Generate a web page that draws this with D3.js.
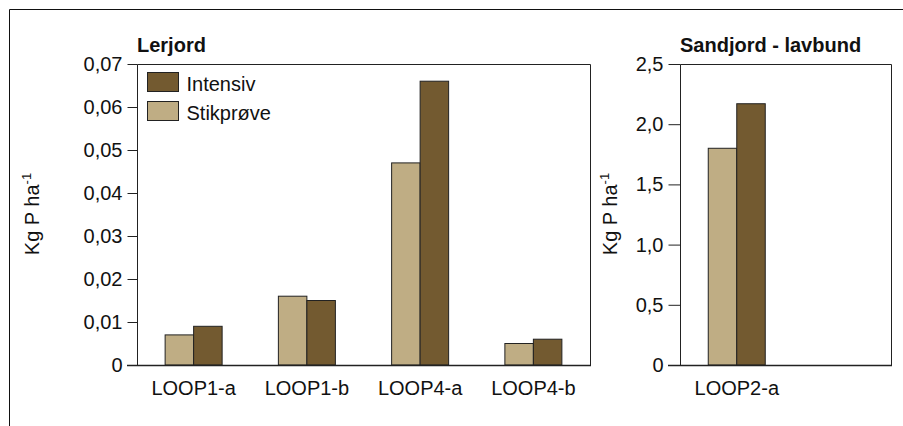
<!DOCTYPE html>
<html>
<head>
<meta charset="utf-8">
<script src="https://cdn.jsdelivr.net/npm/d3@7"></script>
<style>
  body { margin: 0; background: #fff; }
  text { font-family: "Liberation Sans", Arial, sans-serif; fill: #111; }
</style>
</head>
<body>
<svg width="903" height="426"></svg>
<script>
var svg = d3.select("svg"),
    width = +svg.attr("width"),
    height = +svg.attr("height");

// data
var series = ["Stikprøve", "Intensiv"];
var lerCats = ["LOOP1-a", "LOOP1-b", "LOOP4-a", "LOOP4-b"];
var lerStik = [0.007, 0.016, 0.047, 0.005];
var lerInt = [0.009, 0.015, 0.066, 0.006];
var sandCats = ["LOOP2-a", ""];
var sandStik = [1.80, null];
var sandInt = [2.17, null];
var lerTicks = [0, 0.01, 0.02, 0.03, 0.04, 0.05, 0.06, 0.07];
var sandTicks = [0, 0.5, 1.0, 1.5, 2.0, 2.5];

var color = {"Stikprøve": "#bfad84", "Intensiv": "#735a30"};
var fs = "20px";
var fmt = function (dec) {
    return function (d) { return d === 0 ? "0" : d3.format("." + dec + "f")(d).replace(".", ","); };
};

// outer frame (top + left only)
svg.append("path")
    .attr("d", "M9.5,426 L9.5,9.5 L903,9.5")
    .attr("fill", "none").attr("stroke", "#111").attr("stroke-width", 1);

function drawPanel(opt) {
    var x = d3.scaleBand().domain(opt.cats).range([opt.x0, opt.x1]);
    var y = d3.scaleLinear().domain([0, opt.max]).range([365, 64]);
    var barW = opt.barW;
    var xs = d3.scaleBand().domain(series).range([-barW, barW]);

    var rows = opt.cats.map(function (c, i) {
        return {cat: c, "Stikprøve": opt.stik[i], "Intensiv": opt.int[i]};
    }).filter(function (d) { return d["Stikprøve"] != null; });

    var g = svg.append("g");

    g.selectAll("g.cat")
        .data(rows)
        .enter().append("g")
        .attr("transform", function (d) { return "translate(" + (x(d.cat) + x.bandwidth() / 2 + opt.shift) + ",0)"; })
        .selectAll("rect")
        .data(function (d) { return series.map(function (s) { return {key: s, value: d[s]}; }); })
        .enter().append("rect")
        .attr("x", function (d) { return xs(d.key); })
        .attr("width", xs.bandwidth())
        .attr("y", function (d) { return y(d.value); })
        .attr("height", function (d) { return y(0) - y(d.value); })
        .attr("fill", function (d) { return color[d.key]; })
        .attr("stroke", "#222")
        .attr("stroke-width", 1);

    // plot box
    g.append("path")
        .attr("d", "M" + (opt.x0 + 0.5) + ",365.5 L" + (opt.x0 + 0.5) + ",64.5 L" + (opt.x1 + 0.5) + ",64.5 L" + (opt.x1 + 0.5) + ",365.5")
        .attr("fill", "none").attr("stroke", "#222");

    var yAxis = g.append("g")
        .attr("transform", "translate(" + (opt.x0 + 0.5) + ",0)")
        .call(d3.axisLeft(y).tickValues(opt.ticks).tickFormat(fmt(opt.dec)).tickSize(opt.tick).tickPadding(5));
    yAxis.select(".domain").remove();
    yAxis.selectAll("line").attr("stroke", "#222");
    yAxis.selectAll("text").style("font-size", fs).attr("fill", "#111")
        .style("font-family", "'Liberation Sans', Arial, sans-serif");

    // baseline running under the tick for 0
    g.append("line")
        .attr("x1", opt.x0 - opt.tick).attr("x2", opt.x1 + 1)
        .attr("y1", 365.5).attr("y2", 365.5)
        .attr("stroke", "#222").attr("stroke-width", 1.5);

    var xAxis = g.append("g")
        .attr("transform", "translate(" + opt.shift + ",365)")
        .call(d3.axisBottom(x).tickSize(0).tickPadding(16));
    xAxis.select(".domain").remove();
    xAxis.selectAll("text").style("font-size", fs).attr("fill", "#111")
        .style("font-family", "'Liberation Sans', Arial, sans-serif");

    g.append("text")
        .attr("x", opt.titleX).attr("y", 52)
        .style("font-size", fs).style("font-weight", "bold")
        .text(opt.title);

    var lab = g.append("text")
        .attr("transform", "translate(" + opt.labX + ",214) rotate(-90)")
        .attr("text-anchor", "middle")
        .style("font-size", fs);
    lab.append("tspan").text("Kg P ha");
    lab.append("tspan").attr("dy", -8).style("font-size", "13px").text("-1");
}

drawPanel({cats: lerCats, stik: lerStik, int: lerInt, max: 0.07, ticks: lerTicks, dec: 2, tick: 10,
    x0: 137, x1: 590, barW: 28.5, shift: 0, title: "Lerjord", titleX: 137, labX: 39});

drawPanel({cats: sandCats, stik: sandStik, int: sandInt, max: 2.5, ticks: sandTicks, dec: 1, tick: 12,
    x0: 680, x1: 891, barW: 28.5, shift: 4, title: "Sandjord - lavbund", titleX: 680, labX: 617});

// legend
var legend = svg.append("g").attr("transform", "translate(147.5,72.5)");
var legItems = legend.selectAll("g")
    .data(["Intensiv", "Stikprøve"])
    .enter().append("g")
    .attr("transform", function (d, i) { return "translate(0," + (i * 29) + ")"; });
legItems.append("rect")
    .attr("width", 31).attr("height", 19)
    .attr("fill", function (d) { return color[d]; })
    .attr("stroke", "#222");
legItems.append("text")
    .attr("x", 39).attr("y", 18)
    .style("font-size", fs)
    .text(function (d) { return d; });
</script>
</body>
</html>
